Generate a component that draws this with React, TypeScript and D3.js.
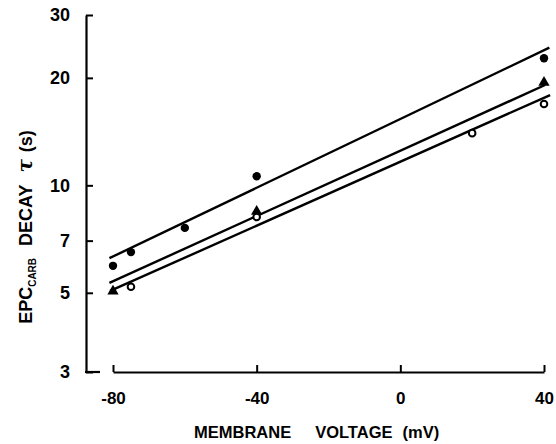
import React, { useEffect, useRef } from "react";
import * as d3 from "d3";

// membrane voltage (mV) vs EPC decay tau (s)
const filledCircles: [number, number][] = [
  [-80, 5.95],
  [-75, 6.5],
  [-60, 7.6],
  [-40, 10.6],
  [40, 22.7],
];
const triangles: [number, number][] = [
  [-80, 5.05],
  [-40, 8.45],
  [40, 19.4],
];
const openCircles: [number, number][] = [
  [-75, 5.2],
  [-40, 8.15],
  [20, 14.0],
  [40, 16.9],
];
// fitted lines, end points
const fitLines: [number, number][][] = [
  [[-81, 6.25], [41.5, 24.3]],
  [[-81, 5.33], [40.3, 19.1]],
  [[-80.8, 5.06], [41.7, 17.9]],
];
const xTicks = [-80, -40, 0, 40];
const yTicks = [3, 5, 7, 10, 20, 30];
const xTitleWords = ["MEMBRANE", "VOLTAGE", "(mV)"];

const FONT = "'Liberation Sans', Arial, Helvetica, sans-serif";

export default function App() {
  const ref = useRef<SVGSVGElement>(null);

  useEffect(() => {
    document.body.style.margin = "0";
    const svg = d3.select(ref.current);
    svg.selectAll("*").remove();

    const x = d3.scaleLinear().domain([-80, 40]).range([113, 544]);
    const y = d3.scaleLog().domain([3, 30]).range([372, 15]);
    const axisX = 86;
    const g = svg.append("g");

    // y axis
    const yAxis = d3.axisLeft(y)
      .tickValues(yTicks)
      .tickFormat(d3.format("d") as any)
      .tickSizeInner(-7)
      .tickSizeOuter(0)
      .tickPadding(16);
    const ya = g.append("g").attr("transform", `translate(${axisX},0)`).call(yAxis);
    ya.select(".domain").attr("stroke-width", 2.2);
    ya.selectAll(".tick line").attr("stroke-width", 2);
    ya.selectAll(".tick text")
      .attr("font-family", FONT)
      .attr("font-weight", "bold")
      .attr("font-size", 18)
      .attr("fill", "#000");
    // longer stub at the bottom of the y axis
    g.append("line")
      .attr("x1", axisX - 1).attr("x2", axisX + 14)
      .attr("y1", y(3)).attr("y2", y(3))
      .attr("stroke", "#000").attr("stroke-width", 2.2);

    // x axis
    const xAxis = d3.axisBottom(x)
      .tickValues(xTicks)
      .tickFormat(d3.format("d") as any)
      .tickSizeInner(-7)
      .tickSizeOuter(0)
      .tickPadding(20);
    const xa = g.append("g").attr("transform", `translate(0,${y(3)})`).call(xAxis);
    xa.select(".domain").attr("stroke-width", 2.2);
    xa.selectAll(".tick line").attr("stroke-width", 2);
    xa.selectAll(".tick text")
      .attr("font-family", FONT)
      .attr("font-weight", "bold")
      .attr("font-size", 17)
      .attr("fill", "#000")
      .text((d: any) => (d < 0 ? "-" + Math.abs(d) : String(d)));

    // fitted lines
    const line = d3.line<[number, number]>().x(d => x(d[0])).y(d => y(d[1]));
    g.selectAll(".fit")
      .data(fitLines)
      .enter()
      .append("path")
      .attr("d", d => line(d))
      .attr("fill", "none")
      .attr("stroke", "#000")
      .attr("stroke-width", 2.4);

    // points
    g.selectAll(".fc")
      .data(filledCircles)
      .enter()
      .append("circle")
      .attr("cx", d => x(d[0]))
      .attr("cy", d => y(d[1]))
      .attr("r", 4.2)
      .attr("fill", "#000");

    const tri = d3.symbol().type(d3.symbolTriangle).size(55);
    g.selectAll(".tr")
      .data(triangles)
      .enter()
      .append("path")
      .attr("d", tri() as string)
      .attr("transform", d => `translate(${x(d[0])},${y(d[1])})`)
      .attr("fill", "#000");

    g.selectAll(".oc")
      .data(openCircles)
      .enter()
      .append("circle")
      .attr("cx", d => x(d[0]))
      .attr("cy", d => y(d[1]))
      .attr("r", 3.3)
      .attr("fill", "#fff")
      .attr("stroke", "#000")
      .attr("stroke-width", 2);

    // x axis title, words spaced as in the original
    const xt = g.append("text")
      .attr("x", 194)
      .attr("y", 438)
      .attr("font-family", FONT)
      .attr("font-weight", "bold")
      .attr("font-size", 16.5);
    xt.append("tspan").text(xTitleWords[0]);
    xt.append("tspan").attr("dx", 24).text(xTitleWords[1]);
    xt.append("tspan").attr("dx", 10).text(xTitleWords[2]);

    const yt = g.append("text")
      .attr("transform", "translate(32,227) rotate(-90)")
      .attr("text-anchor", "middle")
      .attr("font-family", FONT)
      .attr("font-weight", "bold")
      .attr("font-size", 18);
    yt.append("tspan").text("EPC");
    yt.append("tspan").attr("font-size", 10).attr("dy", 4).text("CARB");
    yt.append("tspan").attr("dy", -4).attr("dx", 12).text("DECAY");
    yt.append("tspan").attr("dx", 12).attr("font-style", "italic")
      .attr("font-family", "'DejaVu Serif', serif").attr("font-size", 20).text("τ");
    yt.append("tspan").attr("dx", 7).text("(s)");
  }, []);

  return <svg ref={ref} width={556} height={444} style={{ display: "block", background: "#fff" }} />;
}
